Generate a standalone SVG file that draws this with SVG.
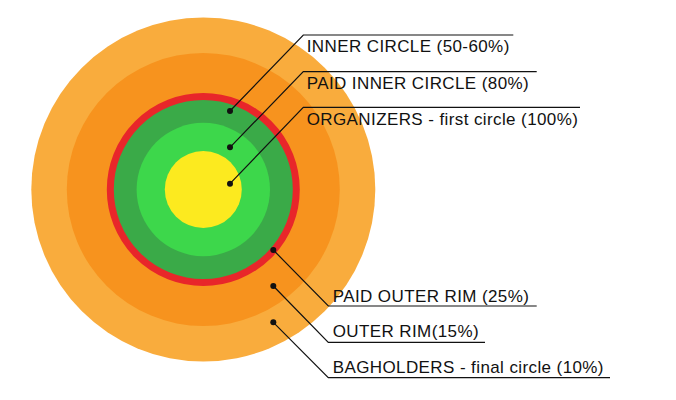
<svg xmlns="http://www.w3.org/2000/svg" width="676" height="400" viewBox="0 0 676 400">
<style>
.lbl{font-family:"Liberation Sans",Arial,sans-serif;font-size:17px;letter-spacing:0.4px;fill:#111}
.ln{fill:none;stroke:#111;stroke-width:1.2}
.dot{fill:#111}
</style>
<rect width="676" height="400" fill="#fff"/>
<g id="rings">
<circle id="bagholders" cx="203.3" cy="189.5" r="172" fill="#F9AC3D"/>
<circle id="outer-rim" cx="203.3" cy="189.5" r="136.5" fill="#F7931E"/>
<circle id="paid-outer-rim" cx="203.3" cy="189.5" r="93" fill="#3AAA48" stroke="#E8262A" stroke-width="7"/>
<circle id="paid-inner-circle" cx="203.3" cy="189.5" r="66.7" fill="#3DD74B"/>
<circle id="organizers" cx="203.3" cy="189.5" r="38.5" fill="#FCEA1F"/>
</g>
<g id="connectors">
<polyline class="ln" points="230,111 303.3,35 513.3,35"/>
<polyline class="ln" points="230,147.3 303.3,71.7 536.7,71.7"/>
<polyline class="ln" points="230,183.7 303.3,107.3 580,107.3"/>
<polyline class="ln" points="273.3,250 328.3,306 536.7,306"/>
<polyline class="ln" points="273.3,286 328.3,342.3 485,342.3"/>
<polyline class="ln" points="273.3,322.3 328.3,377.7 610,377.7"/>
<circle class="dot" cx="230" cy="111" r="3"/>
<circle class="dot" cx="230" cy="147.3" r="3"/>
<circle class="dot" cx="230" cy="183.7" r="3"/>
<circle class="dot" cx="273.3" cy="250" r="3"/>
<circle class="dot" cx="273.3" cy="286" r="3"/>
<circle class="dot" cx="273.3" cy="322.3" r="3"/>
</g>
<g id="labels">
<text class="lbl" x="306.7" y="52.3">INNER CIRCLE (50-60%)</text>
<text class="lbl" x="306.7" y="89">PAID INNER CIRCLE (80%)</text>
<text class="lbl" x="306.7" y="125">ORGANIZERS - first circle (100%)</text>
<text class="lbl" x="332.7" y="301.7">PAID OUTER RIM (25%)</text>
<text class="lbl" x="332.7" y="337.3">OUTER RIM(15%)</text>
<text class="lbl" x="332.7" y="373.3">BAGHOLDERS - final circle (10%)</text>
</g>
</svg>
